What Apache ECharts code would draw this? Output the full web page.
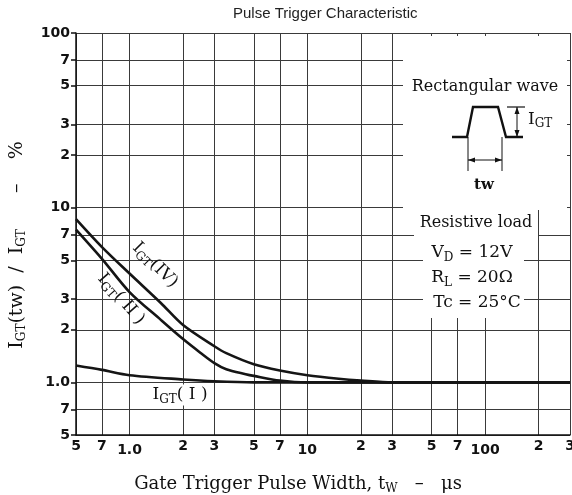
<!DOCTYPE html>
<html><head><meta charset="utf-8">
<script src="https://cdn.jsdelivr.net/npm/echarts@6/dist/echarts.min.js"></script>
<style>html,body{margin:0;padding:0;background:#fff}#c{width:572px;height:495px}</style>
</head><body><div id="c"></div>
<script>
// ---- data ----
const xTicks = [0.5, 0.7, 1, 2, 3, 5, 7, 10, 20, 30, 50, 70, 100, 200, 300];
const xTickLabels = ['5', '7', '1.0', '2', '3', '5', '7', '10', '2', '3', '5', '7', '100', '2', '3'];
const yTicks = [0.5, 0.7, 1, 2, 3, 5, 7, 10, 20, 30, 50, 70, 100];
const yTickLabels = ['5', '7', '1.0', '2', '3', '5', '7', '10', '2', '3', '5', '7', '100'];

const tw_IV = [0.5, 0.7, 1, 1.5, 2, 3, 3.5, 5, 7, 10, 15, 20, 30, 100, 300];
const igt_IV = [8.6, 5.95, 4.2, 2.85, 2.13, 1.61, 1.47, 1.27, 1.17, 1.10, 1.05, 1.025, 1.0, 1.0, 1.0];

const tw_II = [0.5, 0.7, 1, 1.5, 2, 2.5, 3, 3.5, 4.5, 5, 7, 10, 100, 300];
const igt_II = [7.5, 5.1, 3.29, 2.28, 1.77, 1.48, 1.29, 1.19, 1.115, 1.09, 1.025, 1.0, 1.0, 1.0];

const tw_I = [0.5, 0.7, 1, 2, 3, 5, 100, 300];
const igt_I = [1.25, 1.18, 1.10, 1.04, 1.015, 1.0, 1.0, 1.0];

const curveNames = ['IGT(IV)', 'IGT(II)', 'IGT(I)'];

// ---- helpers ----
function pair(xs, ys) { return xs.map((x, i) => [x, ys[i]]); }
function labelFor(v, ticks, labels) {
  let best = 0, bd = Infinity;
  ticks.forEach((t, i) => { const d = Math.abs(Math.log10(v) - Math.log10(t)); if (d < bd) { bd = d; best = i; } });
  return labels[best];
}
const SERIF = '"DejaVu Serif", "Liberation Serif", serif';
const GRID_C = '#3a3a3a';
const CURVE_C = '#151515';

const chart = echarts.init(document.getElementById('c'), null, { renderer: 'canvas' });

const curveSeries = [pair(tw_IV, igt_IV), pair(tw_II, igt_II), pair(tw_I, igt_I)].map((d, i) => ({
  name: curveNames[i], type: 'line', data: d, showSymbol: false, symbol: 'none',
  smooth: 0.3,
  lineStyle: { color: CURVE_C, width: 2.6 }, z: 3
}));

const subRich = {
  sub: { fontFamily: SERIF, fontSize: 12, color: '#111', padding: [10, 0, 0, 0] },
};
const subG = { sub: { fontFamily: SERIF, fontSize: 12, fill: '#111', padding: [9, 0, 0, 0] } };

option = {
  animation: false,
  backgroundColor: '#fff',
  title: {
    text: 'Pulse Trigger Characteristic', left: 228, top: 1,
    textStyle: { fontFamily: '"Liberation Sans", Arial, sans-serif', fontSize: 15, fontWeight: 'normal', color: '#222' }
  },
  grid: { left: 76, right: 2, top: 33, bottom: 60, containLabel: false, outerBoundsMode: 'none' },
  xAxis: {
    type: 'log', logBase: 10, min: 0.5, max: 300,
    name: 'Gate Trigger Pulse Width, t{sub|W}   –   μs',
    nameLocation: 'middle', nameGap: 38,
    nameTextStyle: { fontFamily: SERIF, fontSize: 18, color: '#111', padding: [0, 50, 0, 0], rich: Object.assign({}, subRich) },
    axisLine: { show: true, lineStyle: { color: '#111', width: 1.5 } },
    axisTick: { show: false, customValues: xTicks },
    axisLabel: {
      customValues: xTicks, margin: 4,
      formatter: v => { const s = labelFor(v, xTicks, xTickLabels); return (s === '1.0' || s === '10' || s === '100') ? '{lo|' + s + '}' : '{n|' + s + '}'; },
      rich: {
        n: { fontFamily: '"DejaVu Sans", sans-serif', fontWeight: 'bold', fontSize: 14, color: '#111' },
        lo: { fontFamily: '"DejaVu Sans", sans-serif', fontWeight: 'bold', fontSize: 14, color: '#111', padding: [4, 0, 0, 0] }
      }
    },
    splitLine: { show: true, lineStyle: { color: GRID_C, width: 1 } }
  },
  yAxis: {
    type: 'log', logBase: 10, min: 0.5, max: 100,
    name: 'I{sub|GT}(tw)  /  I{sub|GT}      –    %',
    nameLocation: 'middle', nameGap: 48, nameRotate: 90,
    nameTextStyle: { fontFamily: SERIF, fontSize: 19, color: '#111', padding: [0, 22, 0, 0], rich: Object.assign({}, subRich) },
    axisLine: { show: true, lineStyle: { color: '#111', width: 1.5 } },
    axisTick: { show: true, customValues: yTicks, length: 5, inside: false, lineStyle: { color: '#111', width: 1.5 } },
    axisLabel: {
      customValues: yTicks, margin: 6,
      formatter: v => labelFor(v, yTicks, yTickLabels),
      fontFamily: '"DejaVu Sans", sans-serif', fontWeight: 'bold', fontSize: 14, color: '#111'
    },
    splitLine: { show: true, lineStyle: { color: GRID_C, width: 1 } }
  },
  series: curveSeries,
  graphic: [
    // white masks for the annotation area
    { type: 'rect', z: 5, shape: { x: 403, y: 36, width: 164, height: 174 }, style: { fill: '#fff' } },
    { type: 'rect', z: 5, shape: { x: 414, y: 210, width: 124, height: 26 }, style: { fill: '#fff' } },
    { type: 'rect', z: 5, shape: { x: 423, y: 236, width: 101, height: 82 }, style: { fill: '#fff' } },
    // rectangular wave sketch
    { type: 'polyline', z: 6, shape: { points: [[452, 137], [467, 137], [473, 107], [498, 107], [506, 137], [523, 137]] }, style: { stroke: '#111', lineWidth: 2.4, fill: null } },
    { type: 'line', z: 6, shape: { x1: 468, y1: 137, x2: 468, y2: 171 }, style: { stroke: '#111', lineWidth: 1 } },
    { type: 'line', z: 6, shape: { x1: 502, y1: 137, x2: 502, y2: 171 }, style: { stroke: '#111', lineWidth: 1 } },
    { type: 'line', z: 6, shape: { x1: 468, y1: 160, x2: 502, y2: 160 }, style: { stroke: '#111', lineWidth: 1 } },
    { type: 'polygon', z: 6, shape: { points: [[468, 160], [475, 157.5], [475, 162.5]] }, style: { fill: '#111' } },
    { type: 'polygon', z: 6, shape: { points: [[502, 160], [495, 157.5], [495, 162.5]] }, style: { fill: '#111' } },
    { type: 'line', z: 6, shape: { x1: 507, y1: 107, x2: 525, y2: 107 }, style: { stroke: '#111', lineWidth: 1.2 } },
    { type: 'line', z: 6, shape: { x1: 517, y1: 107, x2: 517, y2: 137 }, style: { stroke: '#111', lineWidth: 1 } },
    { type: 'polygon', z: 6, shape: { points: [[517, 107], [514.5, 114], [519.5, 114]] }, style: { fill: '#111' } },
    { type: 'polygon', z: 6, shape: { points: [[517, 137], [514.5, 130], [519.5, 130]] }, style: { fill: '#111' } },
    { type: 'text', z: 6, left: 528, top: 111, style: { text: 'I{sub|GT}', font: '17px ' + SERIF, fill: '#111', rich: subG } },
    { type: 'text', z: 6, x: 484, y: 185, style: { text: 'tw', font: 'bold 15px ' + SERIF, fill: '#111', align: 'center', verticalAlign: 'middle' } },
    { type: 'text', z: 6, x: 485, y: 87, style: { text: 'Rectangular wave', font: '16px ' + SERIF, fill: '#111', align: 'center', verticalAlign: 'middle' } },
    // conditions
    { type: 'text', z: 6, x: 476, y: 223, style: { text: 'Resistive load', font: '16px ' + SERIF, fill: '#111', align: 'center', verticalAlign: 'middle' } },
    { type: 'text', z: 6, x: 472, y: 253, style: { text: 'V{sub|D} = 12V', font: '17px ' + SERIF, fill: '#111', align: 'center', verticalAlign: 'middle', rich: subG } },
    { type: 'text', z: 6, x: 472, y: 278, style: { text: 'R{sub|L} = 20Ω', font: '17px ' + SERIF, fill: '#111', align: 'center', verticalAlign: 'middle', rich: subG } },
    { type: 'text', z: 6, x: 477, y: 303, style: { text: 'Tc = 25°C', font: '17px ' + SERIF, fill: '#111', align: 'center', verticalAlign: 'middle' } },
    // curve labels
    { type: 'text', z: 6, x: 155, y: 265, rotation: -Math.PI / 4, style: { text: 'I{sub|GT}(IV)', font: '17px ' + SERIF, fill: '#111', align: 'center', verticalAlign: 'middle', rich: subG } },
    { type: 'text', z: 6, x: 121, y: 299, rotation: -0.85, style: { text: 'I{sub|GT}( II )', font: '17px ' + SERIF, fill: '#111', align: 'center', verticalAlign: 'middle', rich: subG } },
    { type: 'text', z: 6, x: 180, y: 395, style: { text: 'I{sub|GT}( I )', font: '17px ' + SERIF, fill: '#111', align: 'center', verticalAlign: 'middle', backgroundColor: '#fff', rich: subG } }
  ]
};
chart.setOption(option);
</script>
</body></html>
